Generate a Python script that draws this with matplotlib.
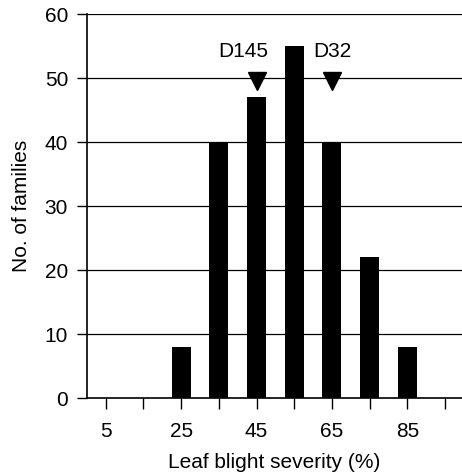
import matplotlib.pyplot as plt

# histogram of leaf blight severity classes
severity = [25, 35, 45, 55, 65, 75, 85]
families = [8, 40, 47, 55, 40, 22, 8]

# parental lines marked with arrows
parents = ['D145', 'D32']
parent_x = [45, 65]
parent_y = [49.5, 49.5]
label_x = [41.5, 65.2]

major_ticks = [5, 25, 45, 65, 85]
minor_ticks = [15, 35, 55, 75, 95]
y_ticks = [0, 10, 20, 30, 40, 50, 60]

plt.rcParams['font.family'] = ['Liberation Sans', 'DejaVu Sans']
fs = 15

fig = plt.figure(figsize=(4.62, 4.74), dpi=100)
ax = fig.add_axes([0.188, 0.160, 0.812, 0.810])

# horizontal grid lines
for y in y_ticks[1:]:
    ax.axhline(y, color='black', linewidth=0.9, zorder=1)

ax.bar(severity, families, width=5, color='black', zorder=2)

# arrow heads and labels for parents
for name, x, y, lx in zip(parents, parent_x, parent_y, label_x):
    ax.plot(x, y, marker='v', markersize=12.5, color='black', linestyle='', zorder=3)
    ax.text(lx, y + 3.2, name, ha='center', va='bottom', fontsize=fs)

ax.set_xlim(0, 99.5)
ax.set_ylim(0, 60)

ax.set_xticks(major_ticks)
ax.set_xticks(minor_ticks, minor=True)
ax.set_yticks(y_ticks)
ax.tick_params(axis='x', which='both', length=8, width=1, direction='out', pad=9.5, labelsize=fs)
ax.tick_params(axis='y', length=7.5, width=1, direction='out', pad=6, labelsize=fs)

for side in ['top', 'right']:
    ax.spines[side].set_visible(False)
ax.spines['left'].set_linewidth(1.2)
ax.spines['bottom'].set_linewidth(1.2)

ax.set_xlabel('Leaf blight severity (%)', fontsize=fs, labelpad=8)
ax.set_ylabel('No. of families', fontsize=fs, labelpad=10)

fig.savefig('out.png', dpi=100)
